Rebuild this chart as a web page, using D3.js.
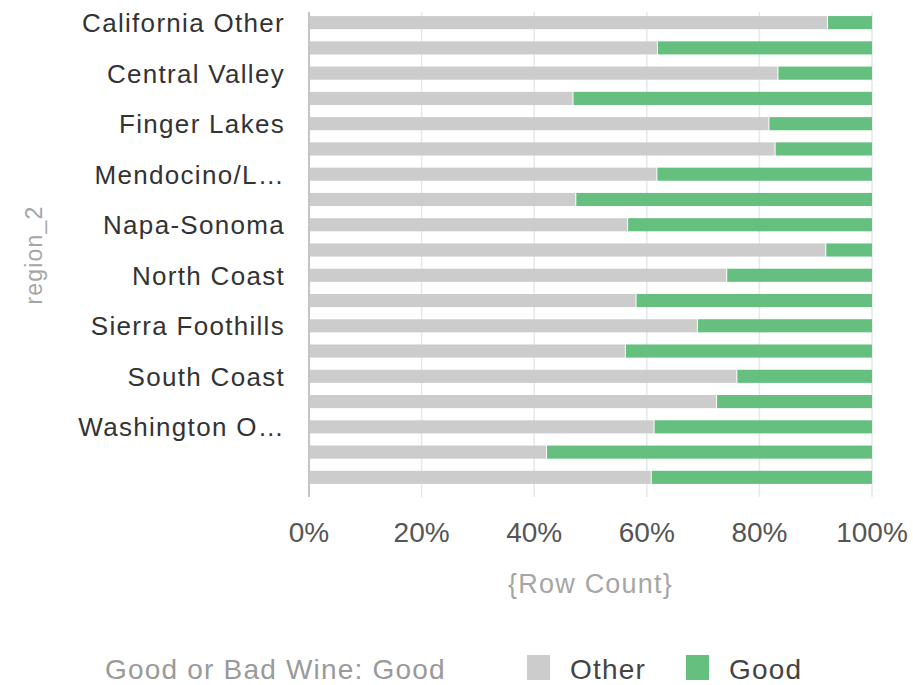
<!DOCTYPE html>
<html>
<head>
<meta charset="utf-8">
<script src="https://cdn.jsdelivr.net/npm/d3@7"></script>
<style>
  html, body { margin: 0; padding: 0; background: #ffffff; }
  svg { display: block; font-family: "Liberation Sans", Arial, Helvetica, sans-serif; }
</style>
</head>
<body>
<svg id="chart" width="913" height="685"></svg>
<script>
// Regions (the last one has no name) and the share of wines that are not "Good"
const regions = [
  "California Other", "Central Coast", "Central Valley", "Columbia Valley",
  "Finger Lakes", "Long Island", "Mendocino/Lake Counties", "Napa",
  "Napa-Sonoma", "New York Other", "North Coast", "Oregon Other",
  "Sierra Foothills", "Sonoma", "South Coast", "Southern Oregon",
  "Washington Other", "Willamette Valley", ""
];
// Row labels as printed: every other region, long names shortened
const regionTickLabels = [
  "California Other", "", "Central Valley", "",
  "Finger Lakes", "", "Mendocino/L…", "",
  "Napa-Sonoma", "", "North Coast", "",
  "Sierra Foothills", "", "South Coast", "",
  "Washington O…", "", ""
];
const otherShare = [
  0.920, 0.618, 0.832, 0.468, 0.816, 0.827, 0.617, 0.473, 0.565, 0.917,
  0.741, 0.580, 0.689, 0.561, 0.759, 0.723, 0.612, 0.421, 0.607
];
const goodShare = otherShare.map(v => 1 - v);
const seriesNames = ["Other", "Good"];
const seriesColors = ["#cccccc", "#65c07f"];
const xTicks = [0, 0.2, 0.4, 0.6, 0.8, 1.0];

const rows = regions.map((r, i) => ({ region: r, Other: otherShare[i], Good: goodShare[i] }));
const stacked = d3.stack().keys(seriesNames)(rows);

const svg = d3.select("#chart");
const margin = { left: 309, right: 41, top: 10, bottom: 195 };
const W = 913, H = 685;

const x = d3.scaleLinear().domain([0, 1]).range([margin.left, W - margin.right]);
const y = d3.scaleBand().domain(d3.range(regions.length))
  .range([margin.top, H - margin.bottom]).paddingInner(0.48).paddingOuter(0.24);

// vertical gridlines, running a little below the plot as tick marks
svg.append("g").selectAll("line").data(xTicks.slice(1)).join("line")
  .attr("x1", d => x(d)).attr("x2", d => x(d))
  .attr("y1", margin.top + 2).attr("y2", H - margin.bottom + 7)
  .attr("stroke", "#e3e7ee").attr("stroke-width", 1.5);

// stacked bars
const colorOf = d3.scaleOrdinal().domain(seriesNames).range(seriesColors);
svg.append("g").selectAll("g").data(stacked).join("g")
  .attr("fill", s => colorOf(s.key))
  .selectAll("rect").data(s => s).join("rect")
  .attr("x", d => x(d[0]) + (d[0] > 0 ? 1 : 0))
  .attr("width", d => Math.max(0, x(d[1]) - x(d[0]) - (d[0] > 0 ? 1 : 0)))
  .attr("y", (d, i) => y(i))
  .attr("height", y.bandwidth());

// y axis line
svg.append("line")
  .attr("x1", margin.left).attr("x2", margin.left)
  .attr("y1", margin.top + 2).attr("y2", H - margin.bottom + 7)
  .attr("stroke", "#c4c4c4").attr("stroke-width", 2);

// row labels
svg.append("g").selectAll("text")
  .data(regionTickLabels.map((t, i) => ({ t, i })).filter(d => d.t))
  .join("text")
  .attr("x", margin.left - 24)
  .attr("y", d => y(d.i) + y.bandwidth() / 2)
  .attr("dy", "0.36em")
  .attr("text-anchor", "end")
  .attr("font-size", 26)
  .attr("letter-spacing", 1.3)
  .attr("fill", "#333333")
  .text(d => d.t);

// y axis title
svg.append("text")
  .attr("transform", `translate(42,${(margin.top + H - margin.bottom) / 2 + 5}) rotate(-90)`)
  .attr("text-anchor", "middle")
  .attr("font-size", 23)
  .attr("letter-spacing", 1.2)
  .attr("fill", "#a6a6a6")
  .text("region_2");

// x tick labels
svg.append("g").selectAll("text").data(xTicks).join("text")
  .attr("x", d => x(d))
  .attr("y", 542)
  .attr("text-anchor", "middle")
  .attr("font-size", 28)
  .attr("fill", "#555555")
  .text(d3.format(".0%"));

// x axis title
svg.append("text")
  .attr("x", (x(0) + x(1)) / 2)
  .attr("y", 593)
  .attr("text-anchor", "middle")
  .attr("font-size", 27)
  .attr("letter-spacing", 1.2)
  .attr("fill", "#a6a6a6")
  .text("{Row Count}");

// legend
const lg = svg.append("g");
lg.append("text")
  .attr("x", 105).attr("y", 679)
  .attr("font-size", 28).attr("letter-spacing", 1.2).attr("fill", "#9a9a9a")
  .text("Good or Bad Wine: Good");
const legendX = [527, 686];
seriesNames.forEach((name, i) => {
  lg.append("rect")
    .attr("x", legendX[i]).attr("y", 655)
    .attr("width", 23).attr("height", 25)
    .attr("fill", seriesColors[i]);
  lg.append("text")
    .attr("x", legendX[i] + 43).attr("y", 679)
    .attr("font-size", 28).attr("letter-spacing", 1.2).attr("fill", "#444444")
    .text(name);
});
</script>
</body>
</html>
